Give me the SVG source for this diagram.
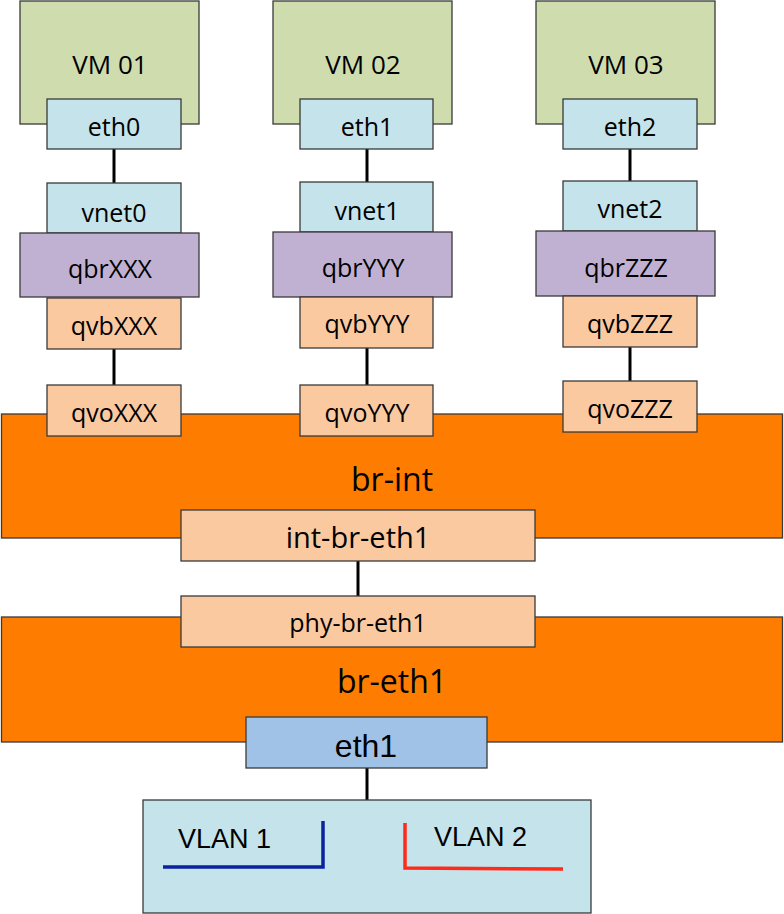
<svg xmlns="http://www.w3.org/2000/svg" width="784" height="914" viewBox="0 0 784 914">
<style>
rect{stroke:#3a3a3a;stroke-width:1.3}
.vm{fill:#cfdcae}
.nic{fill:#c4e3eb}
.qbr{fill:#c0b1d3}
.port{fill:#fbc9a0}
.br{fill:#fe7d00}
.phys{fill:#a0c2e6}
text{font-family:"Open Sans","DejaVu Sans",sans-serif;fill:#000;text-anchor:middle}
.s{font-size:25px}
.vmt{font-size:26px}
.big{font-size:32px}
.ar{font-family:"Liberation Sans",Arial,sans-serif}
.conn line{stroke:#000;stroke-width:3}
</style>
<g id="connectors" class="conn">
<line x1="114" y1="149" x2="114" y2="183"/>
<line x1="114" y1="349" x2="114" y2="385"/>
<line x1="367" y1="149" x2="367" y2="182"/>
<line x1="367" y1="348" x2="367" y2="385"/>
<line x1="630" y1="149" x2="630" y2="181"/>
<line x1="630" y1="347" x2="630" y2="381"/>
<line x1="358" y1="561" x2="358" y2="596"/>
<line x1="367" y1="768" x2="367" y2="800"/>
</g>
<g id="br-int"><rect class="br" x="1.5" y="414" width="781" height="124"/><text class="big" x="392" y="491">br-int</text></g>
<g id="br-eth1"><rect class="br" x="1.5" y="617" width="781" height="125"/><text class="big" x="392" y="693">br-eth1</text></g>
<g id="vm01"><rect class="vm" x="20" y="1" width="179" height="123"/><text class="vmt" x="110" y="74">VM 01</text></g>
<g id="eth0"><rect class="nic" x="47" y="99" width="134" height="50"/><text class="s" x="114" y="136">eth0</text></g>
<g id="vnet0"><rect class="nic" x="47" y="183" width="134" height="50"/><text class="s" x="114" y="222">vnet0</text></g>
<g id="qbrXXX"><rect class="qbr" x="20" y="233" width="179" height="64"/><text class="s" x="110" y="278">qbrXXX</text></g>
<g id="qvbXXX"><rect class="port" x="47" y="298" width="134" height="51"/><text class="s" x="114" y="335">qvbXXX</text></g>
<g id="qvoXXX"><rect class="port" x="47" y="385" width="134" height="51"/><text class="s" x="114" y="422">qvoXXX</text></g>
<g id="vm02"><rect class="vm" x="273" y="1" width="179" height="123"/><text class="vmt" x="363" y="74">VM 02</text></g>
<g id="eth1-vm"><rect class="nic" x="300" y="99" width="133" height="50"/><text class="s" x="367" y="136">eth1</text></g>
<g id="vnet1"><rect class="nic" x="300" y="182" width="133" height="50"/><text class="s" x="367" y="220">vnet1</text></g>
<g id="qbrYYY"><rect class="qbr" x="273" y="232" width="179" height="65"/><text class="s" x="363" y="277">qbrYYY</text></g>
<g id="qvbYYY"><rect class="port" x="300" y="297" width="133" height="51"/><text class="s" x="367" y="333">qvbYYY</text></g>
<g id="qvoYYY"><rect class="port" x="300" y="385" width="133" height="51"/><text class="s" x="367" y="422">qvoYYY</text></g>
<g id="vm03"><rect class="vm" x="536" y="1" width="179" height="123"/><text class="vmt" x="626" y="74">VM 03</text></g>
<g id="eth2"><rect class="nic" x="563" y="99" width="134" height="50"/><text class="s" x="630" y="136">eth2</text></g>
<g id="vnet2"><rect class="nic" x="563" y="181" width="134" height="50"/><text class="s" x="630" y="218">vnet2</text></g>
<g id="qbrZZZ"><rect class="qbr" x="536" y="231" width="179" height="65"/><text class="s" x="626" y="277">qbrZZZ</text></g>
<g id="qvbZZZ"><rect class="port" x="563" y="296" width="134" height="51"/><text class="s" x="630" y="333">qvbZZZ</text></g>
<g id="qvoZZZ"><rect class="port" x="563" y="381" width="134" height="51"/><text class="s" x="630" y="418">qvoZZZ</text></g>
<g id="int-br-eth1"><rect class="port" x="181" y="510" width="354" height="51"/><text x="358" y="548" style="font-size:29px">int-br-eth1</text></g>
<g id="phy-br-eth1"><rect class="port" x="181" y="596" width="354" height="51"/><text x="358" y="632" style="font-size:25px">phy-br-eth1</text></g>
<g id="eth1"><rect class="phys" x="246" y="717" width="241" height="51"/><text class="ar" x="366" y="757" style="font-size:32px">eth1</text></g>
<g id="vlans">
<rect class="nic" x="143" y="800" width="448" height="113"/>
<text class="ar" x="178" y="848" style="font-size:27px;text-anchor:start">VLAN 1</text>
<polyline points="163,867 323,867 323,821" fill="none" stroke="#0a22a0" stroke-width="3.5"/>
<text class="ar" x="434" y="846" style="font-size:27px;text-anchor:start">VLAN 2</text>
<polyline points="405,823 405,868 563,869" fill="none" stroke="#ff2a1a" stroke-width="3.5"/>
</g>
</svg>
